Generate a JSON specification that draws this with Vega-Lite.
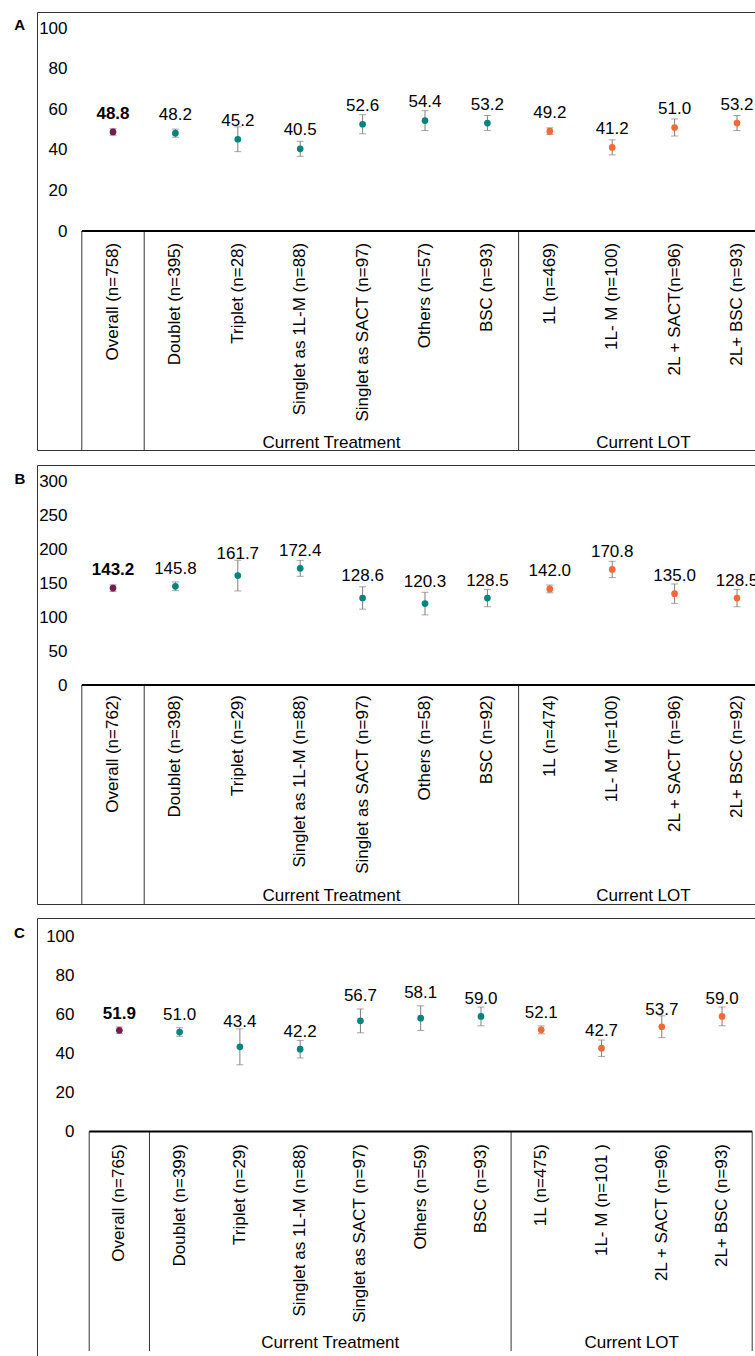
{
  "$schema": "https://vega.github.io/schema/vega-lite/v6.json",
  "padding": {"left": 12, "top": 11, "right": 0, "bottom": 0},
  "spacing": 12,
  "datasets": {
    "dA": [
      {"cat": "Overall (n=758)", "grp": "Overall", "v": 48.8, "lo": 47.2, "hi": 50.4},
      {"cat": "Doublet (n=395)", "grp": "Current Treatment", "v": 48.2, "lo": 46.2, "hi": 50.2},
      {"cat": "Triplet (n=28)", "grp": "Current Treatment", "v": 45.2, "lo": 39.1, "hi": 51.3},
      {"cat": "Singlet as 1L-M (n=88)", "grp": "Current Treatment", "v": 40.5, "lo": 36.8, "hi": 44.2},
      {"cat": "Singlet as SACT (n=97)", "grp": "Current Treatment", "v": 52.6, "lo": 47.9, "hi": 57.3},
      {"cat": "Others (n=57)", "grp": "Current Treatment", "v": 54.4, "lo": 49.5, "hi": 59.3},
      {"cat": "BSC (n=93)", "grp": "Current Treatment", "v": 53.2, "lo": 49.5, "hi": 56.9},
      {"cat": "1L (n=469)", "grp": "Current LOT", "v": 49.2, "lo": 47.6, "hi": 50.8},
      {"cat": "1L- M (n=100)", "grp": "Current LOT", "v": 41.2, "lo": 37.5, "hi": 44.9},
      {"cat": "2L + SACT(n=96)", "grp": "Current LOT", "v": 51.0, "lo": 46.8, "hi": 55.2},
      {"cat": "2L+ BSC (n=93)", "grp": "Current LOT", "v": 53.2, "lo": 49.5, "hi": 56.9}
    ],
    "dB": [
      {"cat": "Overall (n=762)", "grp": "Overall", "v": 143.2, "lo": 138.3, "hi": 148.1},
      {"cat": "Doublet (n=398)", "grp": "Current Treatment", "v": 145.8, "lo": 139.4, "hi": 152.2},
      {"cat": "Triplet (n=29)", "grp": "Current Treatment", "v": 161.7, "lo": 139.0, "hi": 184.4},
      {"cat": "Singlet as 1L-M (n=88)", "grp": "Current Treatment", "v": 172.4, "lo": 160.6, "hi": 184.2},
      {"cat": "Singlet as SACT (n=97)", "grp": "Current Treatment", "v": 128.6, "lo": 112.1, "hi": 145.1},
      {"cat": "Others (n=58)", "grp": "Current Treatment", "v": 120.3, "lo": 103.6, "hi": 137.0},
      {"cat": "BSC (n=92)", "grp": "Current Treatment", "v": 128.5, "lo": 115.7, "hi": 141.3},
      {"cat": "1L (n=474)", "grp": "Current LOT", "v": 142.0, "lo": 136.3, "hi": 147.7},
      {"cat": "1L- M (n=100)", "grp": "Current LOT", "v": 170.8, "lo": 158.8, "hi": 182.8},
      {"cat": "2L + SACT (n=96)", "grp": "Current LOT", "v": 135.0, "lo": 120.7, "hi": 149.3},
      {"cat": "2L+ BSC (n=92)", "grp": "Current LOT", "v": 128.5, "lo": 115.7, "hi": 141.3}
    ],
    "dC": [
      {"cat": "Overall (n=765)", "grp": "Overall", "v": 51.9, "lo": 50.2, "hi": 53.6},
      {"cat": "Doublet (n=399)", "grp": "Current Treatment", "v": 51.0, "lo": 48.8, "hi": 53.2},
      {"cat": "Triplet (n=29)", "grp": "Current Treatment", "v": 43.4, "lo": 34.2, "hi": 52.6},
      {"cat": "Singlet as 1L-M (n=88)", "grp": "Current Treatment", "v": 42.2, "lo": 37.7, "hi": 46.7},
      {"cat": "Singlet as SACT (n=97)", "grp": "Current Treatment", "v": 56.7, "lo": 50.6, "hi": 62.8},
      {"cat": "Others (n=59)", "grp": "Current Treatment", "v": 58.1, "lo": 51.8, "hi": 64.4},
      {"cat": "BSC (n=93)", "grp": "Current Treatment", "v": 59.0, "lo": 54.2, "hi": 63.8},
      {"cat": "1L (n=475)", "grp": "Current LOT", "v": 52.1, "lo": 50.1, "hi": 54.1},
      {"cat": "1L- M (n=101 )", "grp": "Current LOT", "v": 42.7, "lo": 38.5, "hi": 46.9},
      {"cat": "2L + SACT (n=96)", "grp": "Current LOT", "v": 53.7, "lo": 48.1, "hi": 59.3},
      {"cat": "2L+ BSC (n=93)", "grp": "Current LOT", "v": 59.0, "lo": 54.2, "hi": 63.8}
    ]
  },
  "vconcat": [
    {
      "width": 720, "height": 438,
      "data": {"name": "dA"},
      "layer": [
        {
          "transform": [{"filter": {"field": "cat", "oneOf": ["Overall (n=758)", "Doublet (n=395)", "1L (n=469)"]}}],
          "mark": {"type": "rule", "color": "#333333", "strokeWidth": 1},
          "encoding": {
            "x": {"field": "cat", "type": "nominal", "bandPosition": 0, "axis": null, "scale": {"type": "band", "domain": ["Overall (n=758)","Doublet (n=395)","Triplet (n=28)","Singlet as 1L-M (n=88)","Singlet as SACT (n=97)","Others (n=57)","BSC (n=93)","1L (n=469)","1L- M (n=100)","2L + SACT(n=96)","2L+ BSC (n=93)"], "range": [44.8, 731.2], "paddingInner": 0, "paddingOuter": 0}},
            "y": {"datum": 0, "type": "quantitative", "scale": {"domain": [-107.9, 107.9], "nice": false, "zero": false}},
            "y2": {"datum": -107.9}
          }
        },
        {
          "transform": [{"filter": {"field": "cat", "equal": "Overall (n=758)"}}],
          "mark": {"type": "rule", "color": "#000000", "strokeWidth": 2, "clip": true},
          "encoding": {
            "x": {"field": "cat", "type": "nominal", "bandPosition": 0, "axis": null, "scale": {"type": "band", "domain": ["Overall (n=758)","Doublet (n=395)","Triplet (n=28)","Singlet as 1L-M (n=88)","Singlet as SACT (n=97)","Others (n=57)","BSC (n=93)","1L (n=469)","1L- M (n=100)","2L + SACT(n=96)","2L+ BSC (n=93)"], "range": [44.8, 731.2], "paddingInner": 0, "paddingOuter": 0}},
            "x2": {"datum": "2L+ BSC (n=93)", "bandPosition": 1},
            "y": {"datum": 0, "type": "quantitative", "scale": {"domain": [-107.9, 107.9], "nice": false, "zero": false}}
          }
        },
        {
          "mark": {"type": "text", "angle": 270, "align": "right", "baseline": "middle", "fontSize": 17},
          "encoding": {
            "x": {"field": "cat", "type": "nominal", "axis": null, "scale": {"type": "band", "domain": ["Overall (n=758)","Doublet (n=395)","Triplet (n=28)","Singlet as 1L-M (n=88)","Singlet as SACT (n=97)","Others (n=57)","BSC (n=93)","1L (n=469)","1L- M (n=100)","2L + SACT(n=96)","2L+ BSC (n=93)"], "range": [44.8, 731.2], "paddingInner": 0, "paddingOuter": 0}},
            "y": {"datum": -5.8, "type": "quantitative", "scale": {"domain": [-107.9, 107.9], "nice": false, "zero": false}},
            "text": {"field": "cat"}
          }
        },
        {
          "transform": [{"filter": {"field": "cat", "oneOf": ["Singlet as SACT (n=97)", "2L + SACT(n=96)"]}}],
          "mark": {"type": "text", "align": "center", "baseline": "middle", "fontSize": 17},
          "encoding": {
            "x": {"field": "cat", "type": "nominal", "bandPosition": 0, "axis": null, "scale": {"type": "band", "domain": ["Overall (n=758)","Doublet (n=395)","Triplet (n=28)","Singlet as 1L-M (n=88)","Singlet as SACT (n=97)","Others (n=57)","BSC (n=93)","1L (n=469)","1L- M (n=100)","2L + SACT(n=96)","2L+ BSC (n=93)"], "range": [44.8, 731.2], "paddingInner": 0, "paddingOuter": 0}},
            "y": {"datum": -104.3, "type": "quantitative", "scale": {"domain": [-107.9, 107.9], "nice": false, "zero": false}},
            "text": {"field": "grp"}
          }
        },
        {
          "mark": {"type": "rule", "color": "#7f7f7f", "strokeWidth": 1},
          "encoding": {
            "x": {"field": "cat", "type": "nominal", "axis": null, "scale": {"type": "band", "domain": ["Overall (n=758)","Doublet (n=395)","Triplet (n=28)","Singlet as 1L-M (n=88)","Singlet as SACT (n=97)","Others (n=57)","BSC (n=93)","1L (n=469)","1L- M (n=100)","2L + SACT(n=96)","2L+ BSC (n=93)"], "range": [44.8, 731.2], "paddingInner": 0, "paddingOuter": 0}},
            "y": {"field": "lo", "type": "quantitative", "scale": {"domain": [-107.9, 107.9], "nice": false, "zero": false}},
            "y2": {"field": "hi"}
          }
        },
        {
          "mark": {"type": "tick", "color": "#7f7f7f", "size": 7, "thickness": 1},
          "encoding": {
            "x": {"field": "cat", "type": "nominal", "axis": null, "scale": {"type": "band", "domain": ["Overall (n=758)","Doublet (n=395)","Triplet (n=28)","Singlet as 1L-M (n=88)","Singlet as SACT (n=97)","Others (n=57)","BSC (n=93)","1L (n=469)","1L- M (n=100)","2L + SACT(n=96)","2L+ BSC (n=93)"], "range": [44.8, 731.2], "paddingInner": 0, "paddingOuter": 0}},
            "y": {"field": "lo", "type": "quantitative", "scale": {"domain": [-107.9, 107.9], "nice": false, "zero": false}}
          }
        },
        {
          "mark": {"type": "tick", "color": "#7f7f7f", "size": 7, "thickness": 1},
          "encoding": {
            "x": {"field": "cat", "type": "nominal", "axis": null, "scale": {"type": "band", "domain": ["Overall (n=758)","Doublet (n=395)","Triplet (n=28)","Singlet as 1L-M (n=88)","Singlet as SACT (n=97)","Others (n=57)","BSC (n=93)","1L (n=469)","1L- M (n=100)","2L + SACT(n=96)","2L+ BSC (n=93)"], "range": [44.8, 731.2], "paddingInner": 0, "paddingOuter": 0}},
            "y": {"field": "hi", "type": "quantitative", "scale": {"domain": [-107.9, 107.9], "nice": false, "zero": false}}
          }
        },
        {
          "mark": {"type": "point", "filled": true, "size": 45, "opacity": 1},
          "encoding": {
            "x": {"field": "cat", "type": "nominal", "axis": null, "scale": {"type": "band", "domain": ["Overall (n=758)","Doublet (n=395)","Triplet (n=28)","Singlet as 1L-M (n=88)","Singlet as SACT (n=97)","Others (n=57)","BSC (n=93)","1L (n=469)","1L- M (n=100)","2L + SACT(n=96)","2L+ BSC (n=93)"], "range": [44.8, 731.2], "paddingInner": 0, "paddingOuter": 0}},
            "y": {"field": "v", "type": "quantitative", "scale": {"domain": [-107.9, 107.9], "nice": false, "zero": false},
              "axis": {"values": [0, 20, 40, 60, 80, 100], "offset": -30, "title": "A", "titleAngle": 0, "titleFontSize": 15, "titleFontWeight": "bold", "titleX": -47.8, "titleY": 12.3, "titleAlign": "center", "titleBaseline": "middle"}},
            "color": {"field": "grp", "type": "nominal", "legend": null, "scale": {"domain": ["Overall", "Current Treatment", "Current LOT"], "range": ["#7a1a50", "#00857d", "#f26a36"]}}
          }
        },
        {
          "transform": [{"filter": "datum.grp == 'Overall'"}],
          "mark": {"type": "text", "align": "center", "baseline": "middle", "dy": -18, "fontSize": 17, "fontWeight": "bold"},
          "encoding": {
            "x": {"field": "cat", "type": "nominal", "axis": null, "scale": {"type": "band", "domain": ["Overall (n=758)","Doublet (n=395)","Triplet (n=28)","Singlet as 1L-M (n=88)","Singlet as SACT (n=97)","Others (n=57)","BSC (n=93)","1L (n=469)","1L- M (n=100)","2L + SACT(n=96)","2L+ BSC (n=93)"], "range": [44.8, 731.2], "paddingInner": 0, "paddingOuter": 0}},
            "y": {"field": "v", "type": "quantitative", "scale": {"domain": [-107.9, 107.9], "nice": false, "zero": false}},
            "text": {"field": "v", "type": "quantitative", "format": ".1f"}
          }
        },
        {
          "transform": [{"filter": "datum.grp != 'Overall'"}],
          "mark": {"type": "text", "align": "center", "baseline": "middle", "dy": -18.5, "fontSize": 17},
          "encoding": {
            "x": {"field": "cat", "type": "nominal", "axis": null, "scale": {"type": "band", "domain": ["Overall (n=758)","Doublet (n=395)","Triplet (n=28)","Singlet as 1L-M (n=88)","Singlet as SACT (n=97)","Others (n=57)","BSC (n=93)","1L (n=469)","1L- M (n=100)","2L + SACT(n=96)","2L+ BSC (n=93)"], "range": [44.8, 731.2], "paddingInner": 0, "paddingOuter": 0}},
            "y": {"field": "v", "type": "quantitative", "scale": {"domain": [-107.9, 107.9], "nice": false, "zero": false}},
            "text": {"field": "v", "type": "quantitative", "format": ".1f"}
          }
        }
      ]
    },
    {
      "width": 720, "height": 439,
      "data": {"name": "dB"},
      "layer": [
        {
          "transform": [{"filter": {"field": "cat", "oneOf": ["Overall (n=762)", "Doublet (n=398)", "1L (n=474)"]}}],
          "mark": {"type": "rule", "color": "#333333", "strokeWidth": 1},
          "encoding": {
            "x": {"field": "cat", "type": "nominal", "bandPosition": 0, "axis": null, "scale": {"type": "band", "domain": ["Overall (n=762)","Doublet (n=398)","Triplet (n=29)","Singlet as 1L-M (n=88)","Singlet as SACT (n=97)","Others (n=58)","BSC (n=92)","1L (n=474)","1L- M (n=100)","2L + SACT (n=96)","2L+ BSC (n=92)"], "range": [44.8, 731.2], "paddingInner": 0, "paddingOuter": 0}},
            "y": {"datum": 0, "type": "quantitative", "scale": {"domain": [-323.6, 325.1], "nice": false, "zero": false}},
            "y2": {"datum": -323.6}
          }
        },
        {
          "transform": [{"filter": {"field": "cat", "equal": "Overall (n=762)"}}],
          "mark": {"type": "rule", "color": "#000000", "strokeWidth": 2, "clip": true},
          "encoding": {
            "x": {"field": "cat", "type": "nominal", "bandPosition": 0, "axis": null, "scale": {"type": "band", "domain": ["Overall (n=762)","Doublet (n=398)","Triplet (n=29)","Singlet as 1L-M (n=88)","Singlet as SACT (n=97)","Others (n=58)","BSC (n=92)","1L (n=474)","1L- M (n=100)","2L + SACT (n=96)","2L+ BSC (n=92)"], "range": [44.8, 731.2], "paddingInner": 0, "paddingOuter": 0}},
            "x2": {"datum": "2L+ BSC (n=92)", "bandPosition": 1},
            "y": {"datum": 0, "type": "quantitative", "scale": {"domain": [-323.6, 325.1], "nice": false, "zero": false}}
          }
        },
        {
          "mark": {"type": "text", "angle": 270, "align": "right", "baseline": "middle", "fontSize": 17},
          "encoding": {
            "x": {"field": "cat", "type": "nominal", "axis": null, "scale": {"type": "band", "domain": ["Overall (n=762)","Doublet (n=398)","Triplet (n=29)","Singlet as 1L-M (n=88)","Singlet as SACT (n=97)","Others (n=58)","BSC (n=92)","1L (n=474)","1L- M (n=100)","2L + SACT (n=96)","2L+ BSC (n=92)"], "range": [44.8, 731.2], "paddingInner": 0, "paddingOuter": 0}},
            "y": {"datum": -14.8, "type": "quantitative", "scale": {"domain": [-323.6, 325.1], "nice": false, "zero": false}},
            "text": {"field": "cat"}
          }
        },
        {
          "transform": [{"filter": {"field": "cat", "oneOf": ["Singlet as SACT (n=97)", "2L + SACT (n=96)"]}}],
          "mark": {"type": "text", "align": "center", "baseline": "middle", "fontSize": 17},
          "encoding": {
            "x": {"field": "cat", "type": "nominal", "bandPosition": 0, "axis": null, "scale": {"type": "band", "domain": ["Overall (n=762)","Doublet (n=398)","Triplet (n=29)","Singlet as 1L-M (n=88)","Singlet as SACT (n=97)","Others (n=58)","BSC (n=92)","1L (n=474)","1L- M (n=100)","2L + SACT (n=96)","2L+ BSC (n=92)"], "range": [44.8, 731.2], "paddingInner": 0, "paddingOuter": 0}},
            "y": {"datum": -311.7, "type": "quantitative", "scale": {"domain": [-323.6, 325.1], "nice": false, "zero": false}},
            "text": {"field": "grp"}
          }
        },
        {
          "mark": {"type": "rule", "color": "#7f7f7f", "strokeWidth": 1},
          "encoding": {
            "x": {"field": "cat", "type": "nominal", "axis": null, "scale": {"type": "band", "domain": ["Overall (n=762)","Doublet (n=398)","Triplet (n=29)","Singlet as 1L-M (n=88)","Singlet as SACT (n=97)","Others (n=58)","BSC (n=92)","1L (n=474)","1L- M (n=100)","2L + SACT (n=96)","2L+ BSC (n=92)"], "range": [44.8, 731.2], "paddingInner": 0, "paddingOuter": 0}},
            "y": {"field": "lo", "type": "quantitative", "scale": {"domain": [-323.6, 325.1], "nice": false, "zero": false}},
            "y2": {"field": "hi"}
          }
        },
        {
          "mark": {"type": "tick", "color": "#7f7f7f", "size": 7, "thickness": 1},
          "encoding": {
            "x": {"field": "cat", "type": "nominal", "axis": null, "scale": {"type": "band", "domain": ["Overall (n=762)","Doublet (n=398)","Triplet (n=29)","Singlet as 1L-M (n=88)","Singlet as SACT (n=97)","Others (n=58)","BSC (n=92)","1L (n=474)","1L- M (n=100)","2L + SACT (n=96)","2L+ BSC (n=92)"], "range": [44.8, 731.2], "paddingInner": 0, "paddingOuter": 0}},
            "y": {"field": "lo", "type": "quantitative", "scale": {"domain": [-323.6, 325.1], "nice": false, "zero": false}}
          }
        },
        {
          "mark": {"type": "tick", "color": "#7f7f7f", "size": 7, "thickness": 1},
          "encoding": {
            "x": {"field": "cat", "type": "nominal", "axis": null, "scale": {"type": "band", "domain": ["Overall (n=762)","Doublet (n=398)","Triplet (n=29)","Singlet as 1L-M (n=88)","Singlet as SACT (n=97)","Others (n=58)","BSC (n=92)","1L (n=474)","1L- M (n=100)","2L + SACT (n=96)","2L+ BSC (n=92)"], "range": [44.8, 731.2], "paddingInner": 0, "paddingOuter": 0}},
            "y": {"field": "hi", "type": "quantitative", "scale": {"domain": [-323.6, 325.1], "nice": false, "zero": false}}
          }
        },
        {
          "mark": {"type": "point", "filled": true, "size": 45, "opacity": 1},
          "encoding": {
            "x": {"field": "cat", "type": "nominal", "axis": null, "scale": {"type": "band", "domain": ["Overall (n=762)","Doublet (n=398)","Triplet (n=29)","Singlet as 1L-M (n=88)","Singlet as SACT (n=97)","Others (n=58)","BSC (n=92)","1L (n=474)","1L- M (n=100)","2L + SACT (n=96)","2L+ BSC (n=92)"], "range": [44.8, 731.2], "paddingInner": 0, "paddingOuter": 0}},
            "y": {"field": "v", "type": "quantitative", "scale": {"domain": [-323.6, 325.1], "nice": false, "zero": false},
              "axis": {"values": [0, 50, 100, 150, 200, 250, 300], "offset": -30, "title": "B", "titleAngle": 0, "titleFontSize": 15, "titleFontWeight": "bold", "titleX": -47.7, "titleY": 13, "titleAlign": "center", "titleBaseline": "middle"}},
            "color": {"field": "grp", "type": "nominal", "legend": null, "scale": {"domain": ["Overall", "Current Treatment", "Current LOT"], "range": ["#7a1a50", "#00857d", "#f26a36"]}}
          }
        },
        {
          "transform": [{"filter": "datum.grp == 'Overall'"}],
          "mark": {"type": "text", "align": "center", "baseline": "middle", "dy": -18, "fontSize": 17, "fontWeight": "bold"},
          "encoding": {
            "x": {"field": "cat", "type": "nominal", "axis": null, "scale": {"type": "band", "domain": ["Overall (n=762)","Doublet (n=398)","Triplet (n=29)","Singlet as 1L-M (n=88)","Singlet as SACT (n=97)","Others (n=58)","BSC (n=92)","1L (n=474)","1L- M (n=100)","2L + SACT (n=96)","2L+ BSC (n=92)"], "range": [44.8, 731.2], "paddingInner": 0, "paddingOuter": 0}},
            "y": {"field": "v", "type": "quantitative", "scale": {"domain": [-323.6, 325.1], "nice": false, "zero": false}},
            "text": {"field": "v", "type": "quantitative", "format": ".1f"}
          }
        },
        {
          "transform": [{"filter": "datum.grp != 'Overall' && indexof(['Triplet (n=29)', 'Singlet as SACT (n=97)', 'Others (n=58)'], datum.cat) < 0"}],
          "mark": {"type": "text", "align": "center", "baseline": "middle", "dy": -17.5, "fontSize": 17},
          "encoding": {
            "x": {"field": "cat", "type": "nominal", "axis": null, "scale": {"type": "band", "domain": ["Overall (n=762)","Doublet (n=398)","Triplet (n=29)","Singlet as 1L-M (n=88)","Singlet as SACT (n=97)","Others (n=58)","BSC (n=92)","1L (n=474)","1L- M (n=100)","2L + SACT (n=96)","2L+ BSC (n=92)"], "range": [44.8, 731.2], "paddingInner": 0, "paddingOuter": 0}},
            "y": {"field": "v", "type": "quantitative", "scale": {"domain": [-323.6, 325.1], "nice": false, "zero": false}},
            "text": {"field": "v", "type": "quantitative", "format": ".1f"}
          }
        },
        {
          "transform": [{"filter": "indexof(['Triplet (n=29)', 'Singlet as SACT (n=97)', 'Others (n=58)'], datum.cat) >= 0"}],
          "mark": {"type": "text", "align": "center", "baseline": "middle", "dy": -22, "fontSize": 17},
          "encoding": {
            "x": {"field": "cat", "type": "nominal", "axis": null, "scale": {"type": "band", "domain": ["Overall (n=762)","Doublet (n=398)","Triplet (n=29)","Singlet as 1L-M (n=88)","Singlet as SACT (n=97)","Others (n=58)","BSC (n=92)","1L (n=474)","1L- M (n=100)","2L + SACT (n=96)","2L+ BSC (n=92)"], "range": [44.8, 731.2], "paddingInner": 0, "paddingOuter": 0}},
            "y": {"field": "v", "type": "quantitative", "scale": {"domain": [-323.6, 325.1], "nice": false, "zero": false}},
            "text": {"field": "v", "type": "quantitative", "format": ".1f"}
          }
        }
      ]
    },
    {
      "width": 720, "height": 440,
      "data": {"name": "dC"},
      "layer": [
        {
          "transform": [{"filter": {"field": "cat", "oneOf": ["Overall (n=765)", "Doublet (n=399)", "1L (n=475)"]}}],
          "mark": {"type": "rule", "color": "#333333", "strokeWidth": 1},
          "encoding": {
            "x": {"field": "cat", "type": "nominal", "bandPosition": 0, "axis": null, "scale": {"type": "band", "domain": ["Overall (n=765)","Doublet (n=399)","Triplet (n=29)","Singlet as 1L-M (n=88)","Singlet as SACT (n=97)","Others (n=59)","BSC (n=93)","1L (n=475)","1L- M (n=101 )","2L + SACT (n=96)","2L+ BSC (n=93)"], "range": [52.2, 715.2], "paddingInner": 0, "paddingOuter": 0}},
            "y": {"datum": 0, "type": "quantitative", "scale": {"domain": [-116.0, 109.4], "nice": false, "zero": false}},
            "y2": {"datum": -112.4}
          }
        },
        {
          "transform": [{"filter": {"field": "cat", "equal": "2L+ BSC (n=93)"}}],
          "mark": {"type": "rule", "color": "#333333", "strokeWidth": 1},
          "encoding": {
            "x": {"field": "cat", "type": "nominal", "bandPosition": 1, "axis": null, "scale": {"type": "band", "domain": ["Overall (n=765)","Doublet (n=399)","Triplet (n=29)","Singlet as 1L-M (n=88)","Singlet as SACT (n=97)","Others (n=59)","BSC (n=93)","1L (n=475)","1L- M (n=101 )","2L + SACT (n=96)","2L+ BSC (n=93)"], "range": [52.2, 715.2], "paddingInner": 0, "paddingOuter": 0}},
            "y": {"datum": 0, "type": "quantitative", "scale": {"domain": [-116.0, 109.4], "nice": false, "zero": false}},
            "y2": {"datum": -112.4}
          }
        },
        {
          "transform": [{"filter": {"field": "cat", "equal": "Overall (n=765)"}}],
          "mark": {"type": "rule", "color": "#000000", "strokeWidth": 2, "clip": true},
          "encoding": {
            "x": {"field": "cat", "type": "nominal", "bandPosition": 0, "axis": null, "scale": {"type": "band", "domain": ["Overall (n=765)","Doublet (n=399)","Triplet (n=29)","Singlet as 1L-M (n=88)","Singlet as SACT (n=97)","Others (n=59)","BSC (n=93)","1L (n=475)","1L- M (n=101 )","2L + SACT (n=96)","2L+ BSC (n=93)"], "range": [52.2, 715.2], "paddingInner": 0, "paddingOuter": 0}},
            "x2": {"datum": "2L+ BSC (n=93)", "bandPosition": 1},
            "y": {"datum": 0, "type": "quantitative", "scale": {"domain": [-116.0, 109.4], "nice": false, "zero": false}}
          }
        },
        {
          "mark": {"type": "text", "angle": 270, "align": "right", "baseline": "middle", "fontSize": 17},
          "encoding": {
            "x": {"field": "cat", "type": "nominal", "axis": null, "scale": {"type": "band", "domain": ["Overall (n=765)","Doublet (n=399)","Triplet (n=29)","Singlet as 1L-M (n=88)","Singlet as SACT (n=97)","Others (n=59)","BSC (n=93)","1L (n=475)","1L- M (n=101 )","2L + SACT (n=96)","2L+ BSC (n=93)"], "range": [52.2, 715.2], "paddingInner": 0, "paddingOuter": 0}},
            "y": {"datum": -6.4, "type": "quantitative", "scale": {"domain": [-116.0, 109.4], "nice": false, "zero": false}},
            "text": {"field": "cat"}
          }
        },
        {
          "transform": [{"filter": {"field": "cat", "oneOf": ["Singlet as SACT (n=97)", "2L + SACT (n=96)"]}}],
          "mark": {"type": "text", "align": "center", "baseline": "middle", "fontSize": 17},
          "encoding": {
            "x": {"field": "cat", "type": "nominal", "bandPosition": 0, "axis": null, "scale": {"type": "band", "domain": ["Overall (n=765)","Doublet (n=399)","Triplet (n=29)","Singlet as 1L-M (n=88)","Singlet as SACT (n=97)","Others (n=59)","BSC (n=93)","1L (n=475)","1L- M (n=101 )","2L + SACT (n=96)","2L+ BSC (n=93)"], "range": [52.2, 715.2], "paddingInner": 0, "paddingOuter": 0}},
            "y": {"datum": -108.3, "type": "quantitative", "scale": {"domain": [-116.0, 109.4], "nice": false, "zero": false}},
            "text": {"field": "grp"}
          }
        },
        {
          "mark": {"type": "rule", "color": "#7f7f7f", "strokeWidth": 1},
          "encoding": {
            "x": {"field": "cat", "type": "nominal", "axis": null, "scale": {"type": "band", "domain": ["Overall (n=765)","Doublet (n=399)","Triplet (n=29)","Singlet as 1L-M (n=88)","Singlet as SACT (n=97)","Others (n=59)","BSC (n=93)","1L (n=475)","1L- M (n=101 )","2L + SACT (n=96)","2L+ BSC (n=93)"], "range": [52.2, 715.2], "paddingInner": 0, "paddingOuter": 0}},
            "y": {"field": "lo", "type": "quantitative", "scale": {"domain": [-116.0, 109.4], "nice": false, "zero": false}},
            "y2": {"field": "hi"}
          }
        },
        {
          "mark": {"type": "tick", "color": "#7f7f7f", "size": 7, "thickness": 1},
          "encoding": {
            "x": {"field": "cat", "type": "nominal", "axis": null, "scale": {"type": "band", "domain": ["Overall (n=765)","Doublet (n=399)","Triplet (n=29)","Singlet as 1L-M (n=88)","Singlet as SACT (n=97)","Others (n=59)","BSC (n=93)","1L (n=475)","1L- M (n=101 )","2L + SACT (n=96)","2L+ BSC (n=93)"], "range": [52.2, 715.2], "paddingInner": 0, "paddingOuter": 0}},
            "y": {"field": "lo", "type": "quantitative", "scale": {"domain": [-116.0, 109.4], "nice": false, "zero": false}}
          }
        },
        {
          "mark": {"type": "tick", "color": "#7f7f7f", "size": 7, "thickness": 1},
          "encoding": {
            "x": {"field": "cat", "type": "nominal", "axis": null, "scale": {"type": "band", "domain": ["Overall (n=765)","Doublet (n=399)","Triplet (n=29)","Singlet as 1L-M (n=88)","Singlet as SACT (n=97)","Others (n=59)","BSC (n=93)","1L (n=475)","1L- M (n=101 )","2L + SACT (n=96)","2L+ BSC (n=93)"], "range": [52.2, 715.2], "paddingInner": 0, "paddingOuter": 0}},
            "y": {"field": "hi", "type": "quantitative", "scale": {"domain": [-116.0, 109.4], "nice": false, "zero": false}}
          }
        },
        {
          "mark": {"type": "point", "filled": true, "size": 45, "opacity": 1},
          "encoding": {
            "x": {"field": "cat", "type": "nominal", "axis": null, "scale": {"type": "band", "domain": ["Overall (n=765)","Doublet (n=399)","Triplet (n=29)","Singlet as 1L-M (n=88)","Singlet as SACT (n=97)","Others (n=59)","BSC (n=93)","1L (n=475)","1L- M (n=101 )","2L + SACT (n=96)","2L+ BSC (n=93)"], "range": [52.2, 715.2], "paddingInner": 0, "paddingOuter": 0}},
            "y": {"field": "v", "type": "quantitative", "scale": {"domain": [-116.0, 109.4], "nice": false, "zero": false},
              "axis": {"values": [0, 20, 40, 60, 80, 100], "offset": -37, "title": "C", "titleAngle": 0, "titleFontSize": 15, "titleFontWeight": "bold", "titleX": -55.2, "titleY": 14.7, "titleAlign": "center", "titleBaseline": "middle"}},
            "color": {"field": "grp", "type": "nominal", "legend": null, "scale": {"domain": ["Overall", "Current Treatment", "Current LOT"], "range": ["#7a1a50", "#00857d", "#f26a36"]}}
          }
        },
        {
          "transform": [{"filter": "datum.grp == 'Overall'"}],
          "mark": {"type": "text", "align": "center", "baseline": "middle", "dy": -16.5, "fontSize": 17, "fontWeight": "bold"},
          "encoding": {
            "x": {"field": "cat", "type": "nominal", "axis": null, "scale": {"type": "band", "domain": ["Overall (n=765)","Doublet (n=399)","Triplet (n=29)","Singlet as 1L-M (n=88)","Singlet as SACT (n=97)","Others (n=59)","BSC (n=93)","1L (n=475)","1L- M (n=101 )","2L + SACT (n=96)","2L+ BSC (n=93)"], "range": [52.2, 715.2], "paddingInner": 0, "paddingOuter": 0}},
            "y": {"field": "v", "type": "quantitative", "scale": {"domain": [-116.0, 109.4], "nice": false, "zero": false}},
            "text": {"field": "v", "type": "quantitative", "format": ".1f"}
          }
        },
        {
          "transform": [{"filter": "datum.grp != 'Overall' && indexof(['Triplet (n=29)', 'Singlet as SACT (n=97)', 'Others (n=59)'], datum.cat) < 0"}],
          "mark": {"type": "text", "align": "center", "baseline": "middle", "dy": -17, "fontSize": 17},
          "encoding": {
            "x": {"field": "cat", "type": "nominal", "axis": null, "scale": {"type": "band", "domain": ["Overall (n=765)","Doublet (n=399)","Triplet (n=29)","Singlet as 1L-M (n=88)","Singlet as SACT (n=97)","Others (n=59)","BSC (n=93)","1L (n=475)","1L- M (n=101 )","2L + SACT (n=96)","2L+ BSC (n=93)"], "range": [52.2, 715.2], "paddingInner": 0, "paddingOuter": 0}},
            "y": {"field": "v", "type": "quantitative", "scale": {"domain": [-116.0, 109.4], "nice": false, "zero": false}},
            "text": {"field": "v", "type": "quantitative", "format": ".1f"}
          }
        },
        {
          "transform": [{"filter": "indexof(['Triplet (n=29)', 'Singlet as SACT (n=97)', 'Others (n=59)'], datum.cat) >= 0"}],
          "mark": {"type": "text", "align": "center", "baseline": "middle", "dy": -25, "fontSize": 17},
          "encoding": {
            "x": {"field": "cat", "type": "nominal", "axis": null, "scale": {"type": "band", "domain": ["Overall (n=765)","Doublet (n=399)","Triplet (n=29)","Singlet as 1L-M (n=88)","Singlet as SACT (n=97)","Others (n=59)","BSC (n=93)","1L (n=475)","1L- M (n=101 )","2L + SACT (n=96)","2L+ BSC (n=93)"], "range": [52.2, 715.2], "paddingInner": 0, "paddingOuter": 0}},
            "y": {"field": "v", "type": "quantitative", "scale": {"domain": [-116.0, 109.4], "nice": false, "zero": false}},
            "text": {"field": "v", "type": "quantitative", "format": ".1f"}
          }
        }
      ]
    }
  ],
  "config": {
    "view": {"stroke": "#333333", "strokeWidth": 1},
    "font": "Liberation Sans",
    "axis": {"labelFont": "Liberation Sans", "labelFontSize": 17, "labelColor": "#000000", "titleFont": "Liberation Sans", "titleColor": "#000000", "domain": false, "ticks": false, "grid": false, "labelPadding": 0, "labelFlush": false},
    "text": {"font": "Liberation Sans", "fontSize": 17, "color": "#000000"}
  }
}
